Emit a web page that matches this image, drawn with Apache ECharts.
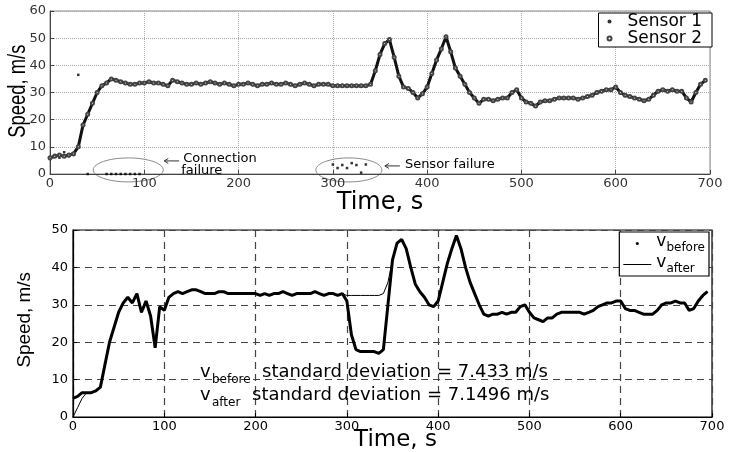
<!DOCTYPE html>
<html>
<head>
<meta charset="utf-8">
<script src="https://cdn.jsdelivr.net/npm/echarts@6/dist/echarts.min.js"></script>
<style>
html, body { margin: 0; padding: 0; background: #fff; }
#main { width: 729px; height: 452px; }
</style>
</head>
<body>
<div id="main"></div>
<script>
// sampling step of the readings below, seconds
var step = 5;

// top panel: raw sensors (every 5 s from t = 0)
var sensor2 = [
	6, 6.5, 7, 6.5, 7, 7.5, 10, 18, 22, 26,
	30, 32.5, 33.5, 35, 34.5, 34, 33.5, 33, 33, 33.5,
	33.5, 34, 33.5, 33.5, 33, 32.5, 34.5, 34, 33.5, 33,
	33, 33.5, 33, 33.5, 34, 33.5, 33, 33.5, 33, 32.5,
	33, 33, 33.5, 33, 32.5, 33, 33, 33.5, 33, 33,
	33.5, 33, 32.5, 33, 33.5, 33, 32.5, 33, 33, 33,
	32.5, 32.5, 32.5, 32.5, 32.5, 32.5, 32.5, 32.5, 33, 38,
	44, 48, 49.5, 43, 36, 32, 31.5, 30, 28, 29.5,
	32, 37, 42, 46, 50.5, 45, 39, 36, 33, 30,
	28, 26, 27.5, 27.5, 27, 27.5, 28, 28, 30, 31,
	28, 26.5, 26, 25, 26.5, 27, 27, 27.5, 28, 28,
	28, 28, 27.5, 28, 28.5, 29, 30, 30.5, 31, 31,
	32, 30, 29, 28.5, 28, 27.5, 27, 27.5, 29, 30.5,
	31, 30.5, 31, 30.5, 30.5, 28, 26.5, 30, 33, 34.5
];
var sensor1 = [
	5.5, 7, 6, 8, 6.5, 7, 36.5, 18, 0, 26,
	30, 32.5, 0, 0, 0, 0, 0, 0, 0, 0,
	33.5, 34, 33.5, 33.5, 33, 32.5, 34.5, 34, 33.5, 33,
	33, 33.5, 33, 33.5, 34, 33.5, 33, 33.5, 33, 32.5,
	33, 33, 33.5, 33, 32.5, 33, 33, 33.5, 33, 33,
	33.5, 33, 32.5, 33, 33.5, 33, 32.5, 33, 33, 33,
	3.5, 2.2, 3.3, 2.2, 4, 3.3, 0.5, 3.5, 33, 38,
	44, 48, 49.5, 43, 36, 32, 31.5, 30, 28, 29.5,
	32, 37, 42, 46, 50.5, 45, 39, 36, 33, 30,
	28, 26, 27.5, 27.5, 27, 27.5, 28, 28, 30, 31,
	28, 26.5, 26, 25, 26.5, 27, 27, 27.5, 28, 28,
	28, 28, 27.5, 28, 28.5, 29, 30, 30.5, 31, 31,
	32, 30, 29, 28.5, 28, 27.5, 27, 27.5, 29, 30.5,
	31, 30.5, 31, 30.5, 30.5, 28, 26.5, 30, 33, 34.5
];

// bottom panel: before / after correction
var vBefore = [
	5, 5.5, 6.5, 6.5, 6.5, 7, 8, 14, 20, 24,
	28, 30.5, 32, 30.5, 33, 28, 31, 27, 18.5, 29.5,
	28.5, 32, 33, 33.5, 33, 33.5, 34, 34, 33.5, 33,
	33, 33, 33.5, 33.5, 33, 33, 33, 33, 33, 33,
	33, 32.5, 33, 32.5, 33, 33, 33.5, 33, 32.5, 33,
	33, 33, 33, 33.5, 33, 32.5, 33, 33, 32.5, 33,
	31, 22, 18, 17.5, 17.5, 17.5, 17.5, 17, 18, 30,
	42, 46.5, 47.5, 45, 40, 35.5, 33.5, 32, 30, 29.5,
	31, 36, 41, 45, 48.5, 45, 40, 36, 33, 30,
	27.5, 27, 27.5, 27.5, 28, 27.5, 28, 28, 29.5, 30,
	28, 26.5, 26, 25.5, 26.5, 26.5, 27.5, 28, 28, 28,
	28, 28, 27.5, 28, 28.5, 29.5, 30, 30.5, 30.5, 31,
	31, 29, 28.5, 28.5, 28, 27.5, 27.5, 27.5, 28.5, 30,
	30.5, 30.5, 31, 30.5, 30.5, 28.5, 29, 31, 32.5, 33.5
];
var vAfter = [
	0, 2.5, 5, 6.5, 6.5, 7, 8, 14, 20, 24,
	28, 30.5, 32, 30.5, 33, 28, 31, 27, 18.5, 29.5,
	28.5, 32, 33, 33.5, 33, 33.5, 34, 34, 33.5, 33,
	33, 33, 33.5, 33.5, 33, 33, 33, 33, 33, 33,
	33, 32.5, 33, 32.5, 33, 33, 33.5, 33, 32.5, 33,
	33, 33, 33, 33.5, 33, 32.5, 33, 33, 32.5, 33,
	32.5, 32.5, 32.5, 32.5, 32.5, 32.5, 32.5, 32.5, 33, 36,
	42, 46.5, 47.5, 45, 40, 35.5, 33.5, 32, 30, 29.5,
	31, 36, 41, 45, 48.5, 45, 40, 36, 33, 30,
	27.5, 27, 27.5, 27.5, 28, 27.5, 28, 28, 29.5, 30,
	28, 26.5, 26, 25.5, 26.5, 26.5, 27.5, 28, 28, 28,
	28, 28, 27.5, 28, 28.5, 29.5, 30, 30.5, 30.5, 31,
	31, 29, 28.5, 28.5, 28, 27.5, 27.5, 27.5, 28.5, 30,
	30.5, 30.5, 31, 30.5, 30.5, 28.5, 29, 31, 32.5, 33.5
];

var xTicks = [0, 700, 100];
var stdBefore = '7.433';
var stdAfter = '7.1496';

function pairs(arr) {
	var out = [];
	for (var i = 0; i < arr.length; i++) {
		out.push([i * step, arr[i]]);
	}
	return out;
}

var font = 'DejaVu Sans';
var sans = 'Liberation Sans';

var chart = echarts.init(document.getElementById('main'));

var option = {
	animation: false,
	backgroundColor: '#fff',
	grid: [
		{ left: 50, right: 19, top: 11, height: 163, show: true, borderColor: '#888', borderWidth: 1, containLabel: false, outerBoundsMode: 'none' },
		{ left: 73, right: 17, top: 230, height: 187, show: true, borderColor: '#000', borderWidth: 1.2, containLabel: false, outerBoundsMode: 'none' }
	],
	xAxis: [
		{
			type: 'value', gridIndex: 0, min: xTicks[0], max: xTicks[1], interval: xTicks[2],
			name: 'Time, s', nameLocation: 'middle', nameGap: 17, nameMoveOverlap: false,
			nameTextStyle: { fontFamily: font, fontSize: 24, color: '#000', verticalAlign: 'top' },
			axisLine: { lineStyle: { color: '#444' } },
			axisTick: { inside: true, length: 4, lineStyle: { color: '#444' } },
			axisLabel: { fontFamily: font, fontSize: 13, color: '#333', margin: 3 },
			splitLine: { show: true, lineStyle: { type: 'dotted', color: '#aaa' } }
		},
		{
			type: 'value', gridIndex: 1, min: xTicks[0], max: xTicks[1], interval: xTicks[2],
			name: 'Time, s', nameLocation: 'middle', nameGap: 12, nameMoveOverlap: false,
			nameTextStyle: { fontFamily: font, fontSize: 23, color: '#000', verticalAlign: 'top', padding: [0, 0, 0, 6] },
			axisLine: { lineStyle: { color: '#000', width: 1.2 } },
			axisTick: { inside: true, length: 4, lineStyle: { color: '#000' } },
			axisLabel: { fontFamily: font, fontSize: 13, color: '#000', margin: 3 },
			splitLine: { show: true, lineStyle: { type: [7, 5], color: '#444', width: 1.2 } }
		}
	],
	yAxis: [
		{
			type: 'value', gridIndex: 0, min: 0, max: 60, interval: 10,
			axisLine: { show: true, lineStyle: { color: '#444' } },
			axisTick: { show: true, inside: true, length: 4, lineStyle: { color: '#444' } },
			axisLabel: { fontFamily: font, fontSize: 13, color: '#333', margin: 4 },
			splitLine: { show: true, lineStyle: { type: 'dotted', color: '#aaa' } }
		},
		{
			type: 'value', gridIndex: 1, min: 0, max: 50, interval: 10,
			axisLine: { show: true, lineStyle: { color: '#000', width: 1.2 } },
			axisTick: { show: true, inside: true, length: 4, lineStyle: { color: '#000' } },
			axisLabel: { fontFamily: font, fontSize: 13, color: '#000', margin: 5 },
			splitLine: { show: true, lineStyle: { type: [7, 5], color: '#444', width: 1.2 } }
		}
	],
	legend: [
		{
			right: 17, top: 13, orient: 'vertical', itemGap: 0,
			padding: [0, 10, 0, 8], borderColor: '#000', borderWidth: 1,
			backgroundColor: '#fff', itemWidth: 26, itemHeight: 4, itemStyle: { borderWidth: 1 },
			textStyle: { fontFamily: font, fontSize: 17, lineHeight: 14, color: '#000' },
			data: [
				{ name: 'Sensor 1', icon: 'circle', itemStyle: { color: '#000' } },
				{ name: 'Sensor 2', icon: 'emptyCircle' }
			]
		},
		{
			right: 20, top: 232, orient: 'vertical', itemGap: 0,
			padding: [1, 4, 1, 4], borderColor: '#000', borderWidth: 1.2,
			backgroundColor: '#fff', itemWidth: 28, itemHeight: 3,
			textStyle: {
				fontFamily: font, fontSize: 17, color: '#000',
				rich: {
					v: { fontFamily: font, fontSize: 17, verticalAlign: 'top' },
					s: { fontFamily: font, fontSize: 12, padding: [9, 0, 0, 0], verticalAlign: 'top' }
				}
			},
			formatter: function (name) {
				return name == 'v_before' ? '{v|v}{s|before}' : '{v|v}{s|after}';
			},
			data: [
				{ name: 'v_before', icon: 'circle', itemStyle: { color: '#000' } },
				{ name: 'v_after', icon: 'path://M0,0H28V1H0Z', itemStyle: { color: '#000' } }
			]
		}
	],
	series: [
		{
			name: 'Sensor 2', type: 'line', xAxisIndex: 0, yAxisIndex: 0,
			data: pairs(sensor2), showAllSymbol: true,
			symbol: 'emptyCircle', symbolSize: 3,
			itemStyle: { color: '#444' },
			lineStyle: { color: '#111', width: 3 }
		},
		{
			name: 'Sensor 1', type: 'scatter', xAxisIndex: 0, yAxisIndex: 0,
			data: pairs(sensor1), symbol: 'rect', symbolSize: 2.5,
			itemStyle: { color: '#000' }
		},
		{
			name: 'v_before', type: 'line', xAxisIndex: 1, yAxisIndex: 1,
			data: pairs(vBefore), symbol: 'none',
			lineStyle: { color: '#000', width: 3 }
		},
		{
			name: 'v_after', type: 'line', xAxisIndex: 1, yAxisIndex: 1,
			data: pairs(vAfter), symbol: 'none',
			itemStyle: { color: '#000' },
			lineStyle: { color: '#000', width: 1 }
		}
	]
};
chart.setOption(option);

// annotations, placed from data coordinates
var c1 = chart.convertToPixel({ gridIndex: 0 }, [83, 1.5]);
var c2 = chart.convertToPixel({ gridIndex: 0 }, [317, 1.5]);
var topMid = chart.convertToPixel({ gridIndex: 0 }, [0, 30.5]);
var botMid = chart.convertToPixel({ gridIndex: 1 }, [0, 26]);

function arrow(x, y) {
	return {
		type: 'group', x: x, y: y,
		children: [
			{ type: 'line', shape: { x1: 0, y1: 0, x2: 15, y2: 0 }, style: { stroke: '#333', lineWidth: 1 } },
			{ type: 'polyline', shape: { points: [[4, -2.5], [0, 0], [4, 2.5]] }, style: { stroke: '#333', lineWidth: 1, fill: null } }
		]
	};
}

function sub(x, y, name, text) {
	return {
		type: 'group', x: x, y: y,
		children: [
			{ type: 'text', x: 0, y: 0, style: { text: 'v', font: '18px ' + font, fill: '#000', textVerticalAlign: 'middle' } },
			{ type: 'text', x: 12, y: 8, style: { text: name, font: '12px ' + font, fill: '#000', textVerticalAlign: 'middle' } },
			{ type: 'text', x: name == 'before' ? 62 : 52, y: 0, style: { text: text, font: '18px ' + font, fill: '#000', textVerticalAlign: 'middle' } }
		]
	};
}

// y-axis titles, drawn squeezed like the original
function yTitle(x, y, size, sx) {
	return {
		type: 'text', x: x, y: y, rotation: Math.PI / 2, scaleX: sx,
		style: { text: 'Speed, m/s', font: size + 'px ' + sans, fill: '#000', textAlign: 'center', textVerticalAlign: 'middle' }
	};
}

chart.setOption({
	graphic: [
		{ type: 'ellipse', shape: { cx: c1[0], cy: c1[1], rx: 35, ry: 12 }, style: { stroke: '#888', fill: null, lineWidth: 1 } },
		{ type: 'ellipse', shape: { cx: c2[0], cy: c2[1], rx: 33, ry: 12 }, style: { stroke: '#888', fill: null, lineWidth: 1 } },
		arrow(c1[0] + 36, c1[1] - 9),
		{ type: 'text', x: c1[0] + 55, y: c1[1] - 11, style: { text: 'Connection', font: '13px ' + font, fill: '#000', textVerticalAlign: 'middle' } },
		{ type: 'text', x: c1[0] + 53, y: c1[1] + 1, style: { text: 'failure', font: '13px ' + font, fill: '#000', textVerticalAlign: 'middle' } },
		arrow(c2[0] + 36, c2[1] - 4),
		{ type: 'text', x: c2[0] + 56, y: c2[1] - 5, style: { text: 'Sensor failure', font: '13px ' + font, fill: '#000', textVerticalAlign: 'middle' } },
		sub(200, 372, 'before', 'standard deviation = ' + stdBefore + ' m/s'),
		sub(200, 395, 'after', 'standard deviation = ' + stdAfter + ' m/s'),
		yTitle(topMid[0] - 31, topMid[1], 23, 0.8),
		yTitle(botMid[0] - 48, botMid[1], 18, 1.05)
	]
});
</script>
</body>
</html>
